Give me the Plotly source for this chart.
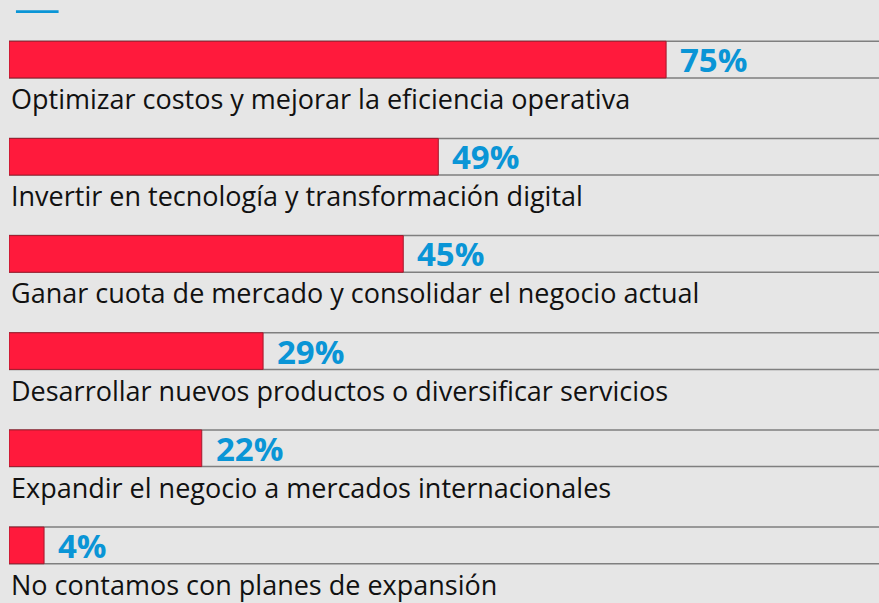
import plotly.graph_objects as go

categories = [
    "Optimizar costos y mejorar la eficiencia operativa",
    "Invertir en tecnología y transformación digital",
    "Ganar cuota de mercado y consolidar el negocio actual",
    "Desarrollar nuevos productos o diversificar servicios",
    "Expandir el negocio a mercados internacionales",
    "No contamos con planes de expansión",
]
values = [75, 49, 45, 29, 22, 4]
track = [100] * len(categories)

BG = "#e6e6e6"
RED = "#ff1a3c"
BLUE = "#0a95d6"
FONT = "Open Sans"

fig = go.Figure()
# gray outlined track behind each bar
fig.add_trace(
    go.Bar(
        y=categories,
        x=track,
        orientation="h",
        width=0.377,
        marker={"color": BG, "line": {"color": "#7f7f7f", "width": 1.5}},
        hoverinfo="skip",
    )
)
fig.add_trace(
    go.Bar(
        y=categories,
        x=values,
        orientation="h",
        width=0.377,
        marker={"color": RED, "line": {"color": "#a01a2c", "width": 1}},
        hovertemplate="%{y}: %{x}%<extra></extra>",
    )
)

for cat, val in zip(categories, values):
    fig.add_annotation(
        x=0, y=cat, text=cat, showarrow=False,
        xanchor="left", yanchor="middle", xshift=0, yshift=-39,
        font={"family": FONT, "size": 27, "color": "#111111"},
    )
    fig.add_annotation(
        x=val, y=cat, text=f"<b>{val}%</b>", showarrow=False,
        xanchor="left", yanchor="middle", xshift=12, yshift=0,
        font={"family": FONT, "size": 33, "color": BLUE},
    )

# short blue accent line at the top
fig.add_shape(
    type="line", xref="paper", yref="paper",
    x0=0.008, x1=0.057, y0=0.999, y1=0.999,
    line={"color": BLUE, "width": 2.7},
)

fig.update_layout(
    width=879,
    height=603,
    barmode="overlay",
    showlegend=False,
    paper_bgcolor=BG,
    plot_bgcolor=BG,
    margin={"l": 9, "r": 0, "t": 11, "b": 9},
    xaxis={"range": [0, 99.3], "visible": False, "fixedrange": True},
    yaxis={
        "range": [len(categories) - 0.5, -0.5],
        "visible": False,
        "fixedrange": True,
    },
)
# drop the default 8px body margin so the figure fills the window
fig.write_html(
    "out.html",
    config={"displayModeBar": False},
    post_script="document.body.style.margin='0';",
)
